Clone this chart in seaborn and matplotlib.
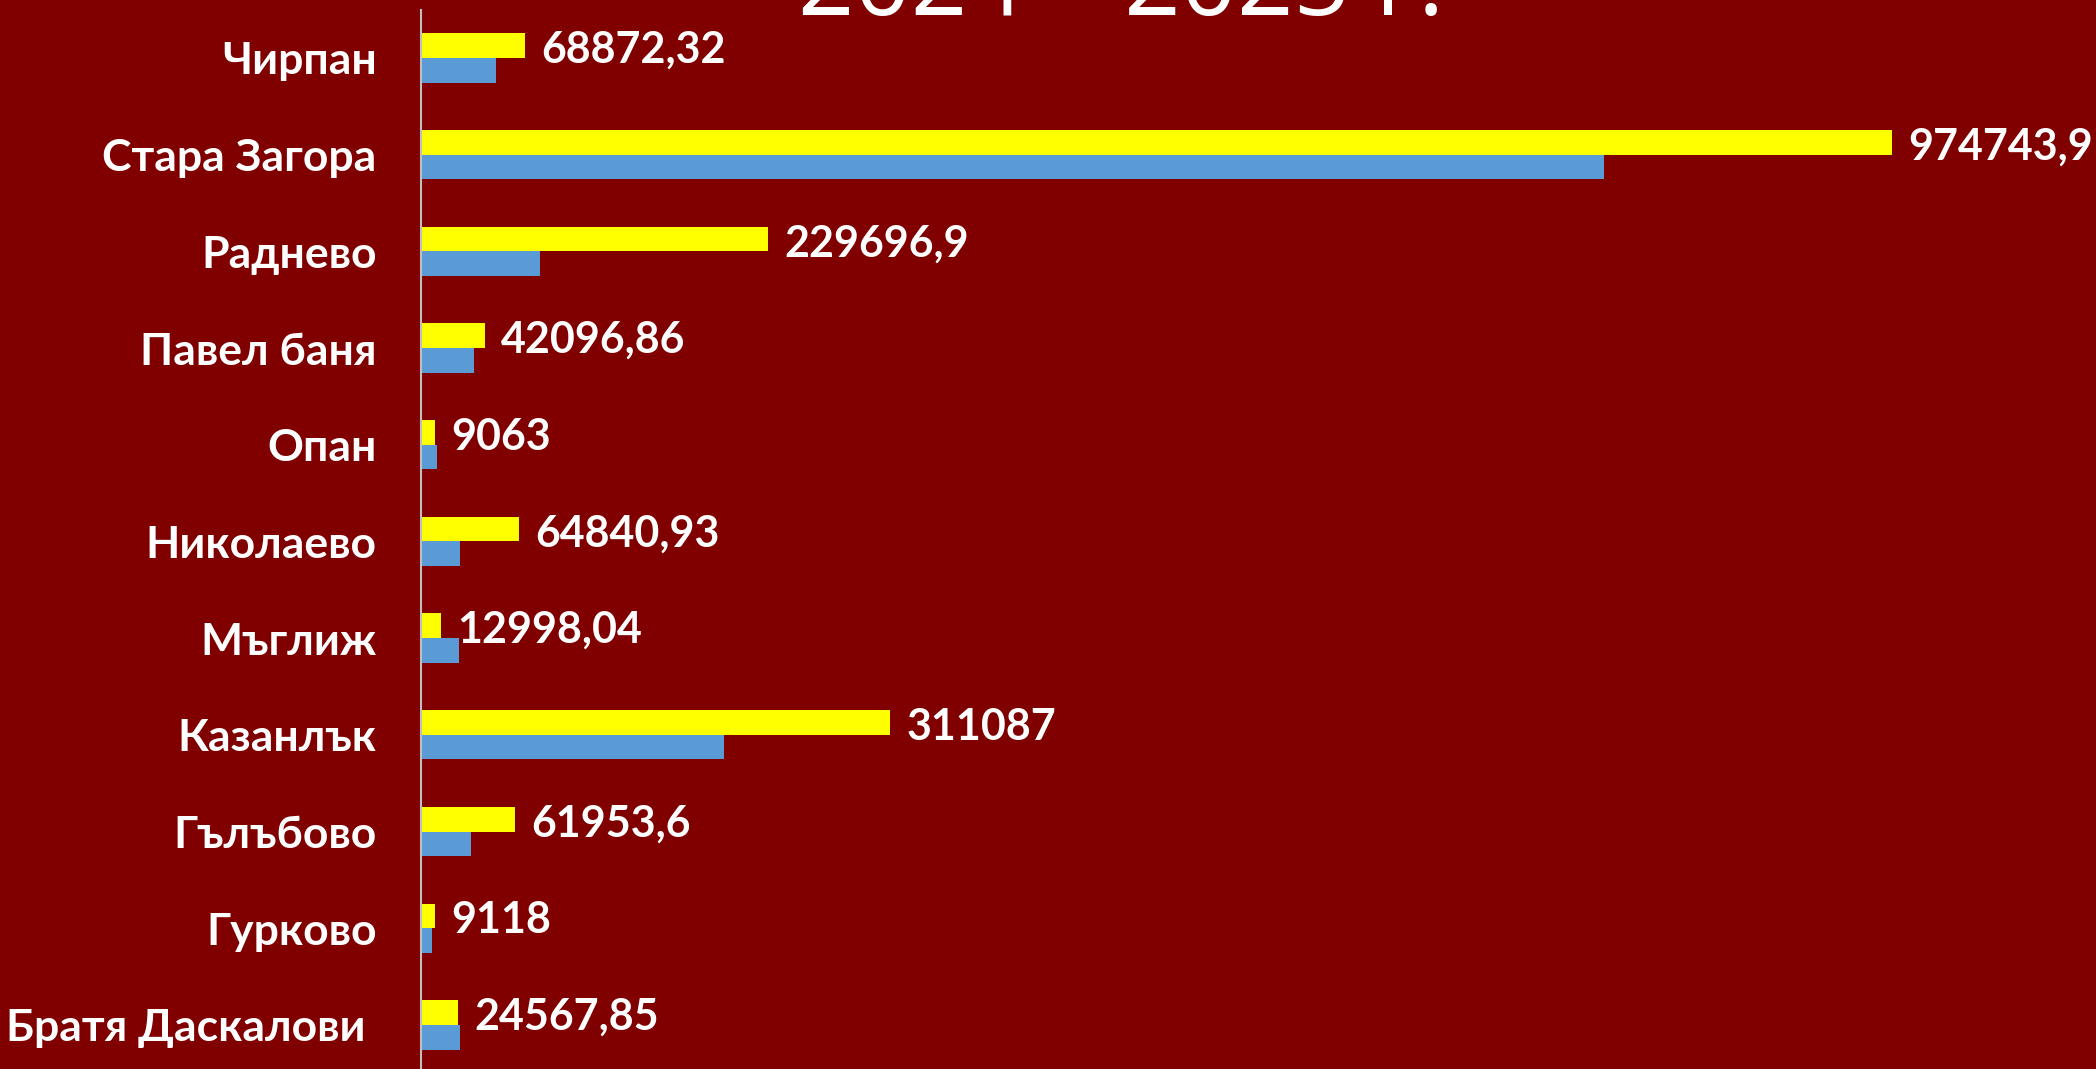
import pandas as pd
import matplotlib
matplotlib.use("Agg")
import matplotlib.pyplot as plt
import seaborn as sns

# данни
obshtini = ["Чирпан", "Стара Загора", "Раднево", "Павел баня", "Опан", "Николаево",
            "Мъглиж", "Казанлък", "Гълъбово", "Гурково", "Братя Даскалови "]
stoinosti_zhalti = [68872.32, 974743.9, 229696.9, 42096.86, 9063, 64840.93,
                    12998.04, 311087, 61953.6, 9118, 24567.85]
etiketi = ["68872,32", "974743,9", "229696,9", "42096,86", "9063", "64840,93",
           "12998,04", "311087", "61953,6", "9118", "24567,85"]
stoinosti_sini = [49600, 784000, 79000, 35000, 10600, 26000,
                  25000, 201000, 33000, 7000, 25700]

serii = ["2025", "2024"]

df = pd.DataFrame({
    "Община": obshtini * 2,
    "Стойност": stoinosti_zhalti + stoinosti_sini,
    "Серия": [serii[0]] * len(obshtini) + [serii[1]] * len(obshtini),
})

BG = "#800000"
sns.set_style("white")
plt.rcParams["font.family"] = ["Lato", "DejaVu Sans"]

fig = plt.figure(figsize=(20.96, 10.69), dpi=100, facecolor=BG)
ax = fig.add_axes([0.2009, -0.004, 0.7991, 0.995])
ax.set_facecolor(BG)

sns.barplot(data=df, x="Стойност", y="Община", hue="Серия", hue_order=serii,
            order=obshtini, orient="h", palette=["#FFFF00", "#5B9BD5"],
            saturation=1, width=0.51, gap=0, linewidth=0, legend=False, ax=ax)

# етикети до жълтите ленти
for bar, txt in zip(ax.containers[0], etiketi):
    ax.annotate(txt, (bar.get_width(), bar.get_y() + bar.get_height() / 2),
                xytext=(12, -3), textcoords="offset points",
                ha="left", va="center", color="white",
                fontsize=31, fontweight="bold")

ax.set_xlim(0, 1110300)
ax.set_xlabel("")
ax.set_ylabel("")
ax.set_xticks([])
ax.tick_params(axis="y", length=0, pad=32, labelsize=32, labelcolor="white")
for lbl in ax.get_yticklabels():
    lbl.set_fontweight("bold")

for s in ["top", "right", "bottom"]:
    ax.spines[s].set_visible(False)
ax.spines["left"].set_color("#BFBFBF")
ax.spines["left"].set_linewidth(1.5)

# заглавие (само долната част се вижда)
fig.text(0.535, 0.986, "2024 – 2025 г.", ha="center", va="baseline",
         color="white", fontsize=71, family=["Open Sans", "DejaVu Sans"])

fig.savefig("out.png", dpi=100, facecolor=BG)
